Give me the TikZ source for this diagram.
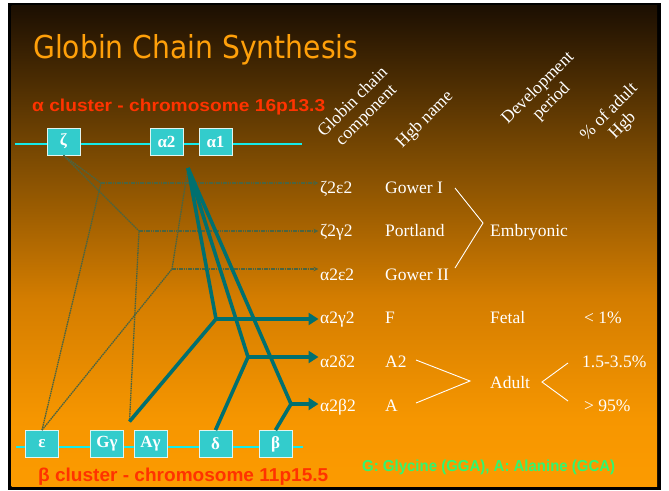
\documentclass[tikz,border=0pt]{standalone}
\usepackage{graphicx}
\usepackage{fontspec}
\setmainfont{Liberation Serif}
\newfontfamily\sansf{Liberation Sans}
\newfontfamily\titlef{DejaVu Sans}
\usetikzlibrary{arrows.meta}
\definecolor{bgA}{RGB}{252,155,0}
\definecolor{bgB}{RGB}{246,150,0}
\definecolor{bgC}{RGB}{212,125,0}
\definecolor{bgD}{RGB}{125,75,2}
\definecolor{bgE}{RGB}{28,15,2}
\definecolor{titleor}{RGB}{255,160,10}
\definecolor{redt}{RGB}{255,51,0}
\definecolor{greent}{RGB}{51,245,110}
\definecolor{genefill}{RGB}{51,204,204}
\definecolor{chromc}{RGB}{20,235,235}
\definecolor{thickc}{RGB}{0,112,112}
\definecolor{thinc}{RGB}{75,100,65}
\pgfdeclareverticalshading{slidebg}{100bp}{color(0bp)=(bgA); color(25bp)=(bgA); color(32bp)=(bgB); color(44.5bp)=(bgC); color(59bp)=(bgD); color(75bp)=(bgE); color(100bp)=(bgE)}
\begin{document}
\begin{tikzpicture}[x=1pt,y=-1pt,
  gene/.style={draw={rgb,255:red,225;green,245;blue,240}, line width=0.8pt, fill=genefill,
    minimum width=33pt, minimum height=27pt, inner sep=0pt, text=white,
    font=\bfseries\fontsize{17}{17}\selectfont},
  chrom/.style={chromc, line width=2pt},
  thinl/.style={thinc, line width=1.3pt, dash pattern=on 1.6pt off 0.7pt},
  thinarrow/.style={thinl, -{Stealth[length=5pt,width=4.5pt]}},
  thickl/.style={thickc, line width=3.6pt, line join=round},
  thickarrow/.style={thickl, -{Triangle[length=10pt,width=12pt]}},
  rowtxt/.style={anchor=base west, inner sep=1.5pt, text=white, font=\fontsize{17.5}{20}\selectfont},
  hdr/.style={rotate=45, align=center, text=white, inner sep=0pt, font=\fontsize{17.5}{19}\selectfont},
  brk/.style={white, line width=0.9pt},
  fitlbl/.style={anchor=base west, inner sep=0pt}
]
\useasboundingbox (0,0) rectangle (669,490);
\fill[white] (0,0) rectangle (669,490);
\fill[black] (8,3) rectangle (660.5,489.5);
\shade[shading=slidebg] (11.5,5.5) rectangle (657,486.5);

% title
\node[fitlbl, text=titleor] (title) at (33,58) {\resizebox{325pt}{24pt}{\titlef Globin Chain Synthesis}};

% cluster labels
\node[fitlbl, text=redt] (acl) at (32,111) {\resizebox{293pt}{12.5pt}{\sansf\bfseries α cluster - chromosome 16p13.3}};
\node[fitlbl, text=redt] (bcl) at (38,481) {\resizebox{290pt}{13.5pt}{\sansf\bfseries β cluster - chromosome 11p15.5}};
\node[fitlbl, text=greent] (note) at (362,471) {\resizebox{253pt}{11.5pt}{\sansf\bfseries G: Glycine (GGA), A: Alanine (GCA)}};

% chromosome lines
\coordinate (aL) at (15,144);
\coordinate (aR) at (302,144);
\coordinate (bL) at (16,447);
\coordinate (bR) at (303,447);
\draw[chrom] (aL) -- (aR);
\draw[chrom] (bL) -- (bR);

% genes
\node[gene] (zeta) at (63.5,141.5) {ζ};
\node[gene] (a2) at (166.5,141.5) {α2};
\node[gene] (a1) at (215.5,141.5) {α1};
\node[gene] (eps) at (42,444) {ε};
\node[gene] (gg) at (107,444) {Gγ};
\node[gene] (ag) at (150.5,444) {Aγ};
\node[gene] (delta) at (215.5,444) {δ};
\node[gene] (beta) at (275.5,444) {β};

% headers
\node[hdr] (h1) at (360,109) {Globin chain\\component};
\node[hdr] (h2) at (425,120) {Hgb name};
\node[hdr] (h3) at (545,95) {Development\\period};
\node[hdr] (h4) at (616,119) {\% of adult\\Hgb};

% rows
\node[rowtxt] (c1) at (318.5,193) {ζ2ε2};
\node[rowtxt] (c2) at (318.5,236) {ζ2γ2};
\node[rowtxt] (c3) at (318.5,280) {α2ε2};
\node[rowtxt] (c4) at (318.5,323) {α2γ2};
\node[rowtxt] (c5) at (318.5,367) {α2δ2};
\node[rowtxt] (c6) at (318.5,411) {α2β2};
\node[rowtxt] (n1) at (383.5,193) {Gower I};
\node[rowtxt] (n2) at (383.5,236) {Portland};
\node[rowtxt] (n3) at (383.5,280) {Gower II};
\node[rowtxt] (n4) at (383.5,323) {F};
\node[rowtxt] (n5) at (383.5,367) {A2};
\node[rowtxt] (n6) at (383.5,411) {A};
\node[rowtxt] (emb) at (488.5,236) {Embryonic};
\node[rowtxt] (fet) at (488.5,323) {Fetal};
\node[rowtxt] (adu) at (488.5,388) {Adult};
\node[rowtxt] (p4) at (582.5,323) {< 1\%};
\node[rowtxt] (p5) at (580.5,367) {1.5-3.5\%};
\node[rowtxt] (p6) at (582.5,411) {> 95\%};

% brackets
\coordinate (eb1) at (455,188);
\coordinate (eb2) at (483,223);
\coordinate (eb3) at (455,268);
\draw[brk] (eb1) -- (eb2) -- (eb3);
\coordinate (ab1) at (416,360);
\coordinate (ab2) at (470,381);
\coordinate (ab3) at (416,403);
\draw[brk] (ab1) -- (ab2) -- (ab3);
\coordinate (pb1) at (568,363);
\coordinate (pb2) at (542,382);
\coordinate (pb3) at (568,401);
\draw[brk] (pb1) -- (pb2) -- (pb3);

% junction points
\coordinate (A) at (188,168);
\coordinate (G) at (129.5,421.5);
\coordinate (J1) at (101,183);
\coordinate (J2) at (139,231);
\coordinate (J3) at (172,269);
\coordinate (J4) at (216,319);
\coordinate (J5) at (248,357);
\coordinate (J6) at (291,404);

% thin connectors (embryonic)
\draw[thinl] (zeta.south) -- (J1);
\draw[thinl] (zeta.south) -- (J2);
\draw[thinl] (eps.north) -- (J1);
\draw[thinl] (eps.north) -- (J3);
\draw[thinl] (A) -- (J3);
\draw[thinl] (G) -- (J2);
\draw[thinarrow] (J1) -- (J1 -| c1.west);
\draw[thinarrow] (J2) -- (J2 -| c2.west);
\draw[thinarrow] (J3) -- (J3 -| c3.west);

% thick connectors
\draw[thickl] (G) -- (J4);
\draw[thickl] (A) -- (J4);
\draw[thickarrow] (J4) -- (J4 -| c4.west);
\draw[thickl] (A) -- (J5);
\draw[thickl] (delta.north) -- (J5);
\draw[thickarrow] (J5) -- (J5 -| c5.west);
\draw[thickl] (A) -- (J6);
\draw[thickl] (beta.north) -- (J6);
\draw[thickarrow] (J6) -- (J6 -| c6.west);
\end{tikzpicture}
\end{document}
